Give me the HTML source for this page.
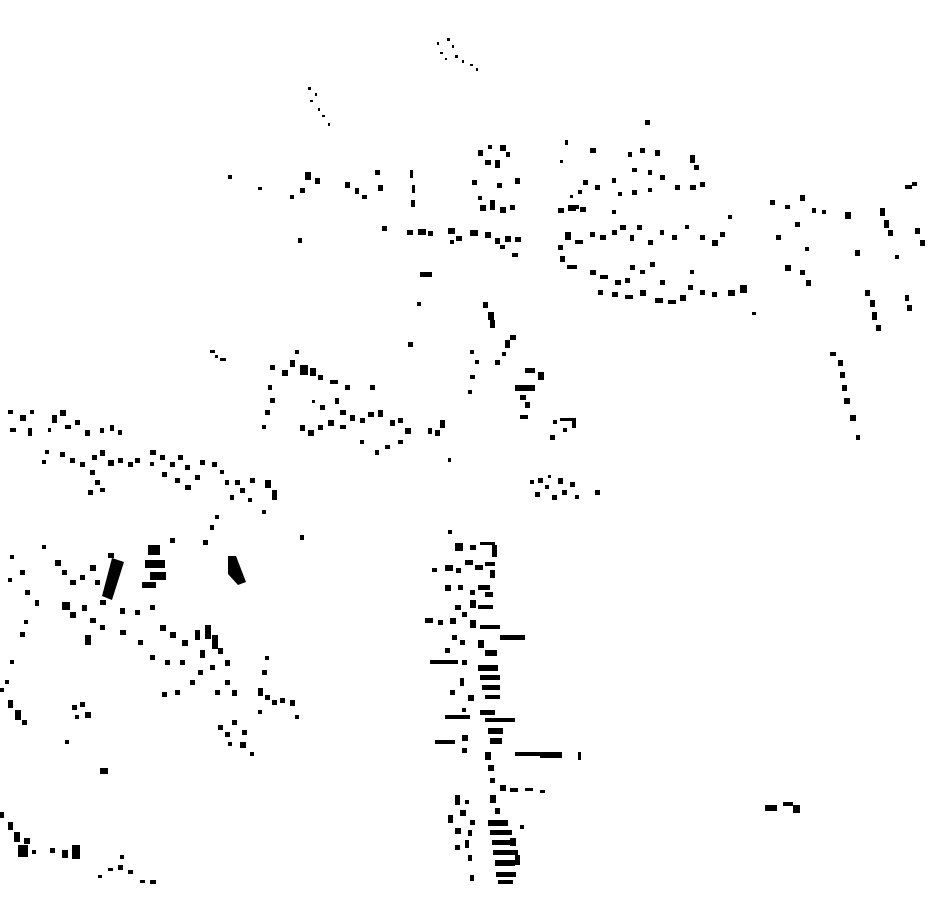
<!DOCTYPE html>
<html><head><meta charset="utf-8"><style>html,body{margin:0;padding:0;background:#fff}svg{display:block}</style></head>
<body>
<svg width="930" height="924" viewBox="0 0 930 924" xmlns="http://www.w3.org/2000/svg">
<rect width="930" height="924" fill="#fff"/>
<g fill="#000">
<!-- top -->
<rect x="437" y="42" width="2" height="3"/><rect x="447" y="38" width="3" height="3"/><rect x="452" y="45" width="2" height="3"/><rect x="440" y="52" width="3" height="2"/><rect x="455" y="55" width="3" height="3"/><rect x="462" y="60" width="2" height="3"/><rect x="470" y="64" width="3" height="2"/><rect x="476" y="68" width="2" height="3"/><rect x="445" y="58" width="2" height="2"/>
<rect x="308" y="87" width="3" height="3"/><rect x="315" y="93" width="2" height="3"/><rect x="310" y="100" width="3" height="2"/><rect x="318" y="108" width="2" height="3"/><rect x="322" y="115" width="3" height="2"/><rect x="328" y="123" width="2" height="3"/>
<rect x="645" y="120" width="5" height="5"/>
<rect x="478" y="150" width="5" height="6"/><rect x="488" y="145" width="4" height="4"/><rect x="500" y="145" width="6" height="6"/><rect x="506" y="152" width="4" height="5"/><rect x="485" y="160" width="6" height="5"/><rect x="495" y="160" width="5" height="8"/><rect x="472" y="180" width="5" height="5"/><rect x="497" y="183" width="5" height="5"/><rect x="515" y="178" width="5" height="6"/><rect x="480" y="205" width="6" height="6"/><rect x="490" y="200" width="5" height="10"/><rect x="500" y="207" width="6" height="6"/><rect x="510" y="205" width="5" height="5"/><rect x="478" y="196" width="4" height="4"/>
<rect x="565" y="140" width="3" height="5"/><rect x="590" y="148" width="6" height="5"/><rect x="560" y="160" width="3" height="3"/><rect x="583" y="180" width="5" height="5"/><rect x="578" y="190" width="4" height="4"/><rect x="595" y="185" width="5" height="5"/><rect x="558" y="208" width="6" height="5"/><rect x="568" y="205" width="8" height="6"/><rect x="580" y="207" width="6" height="5"/><rect x="570" y="195" width="3" height="3"/>
<rect x="628" y="152" width="4" height="5"/><rect x="640" y="148" width="5" height="5"/><rect x="655" y="150" width="5" height="6"/><rect x="632" y="168" width="5" height="4"/><rect x="648" y="170" width="4" height="5"/><rect x="660" y="175" width="5" height="5"/><rect x="690" y="155" width="5" height="8"/><rect x="694" y="165" width="5" height="5"/><rect x="675" y="185" width="5" height="5"/><rect x="690" y="185" width="6" height="5"/><rect x="700" y="182" width="5" height="5"/><rect x="632" y="190" width="5" height="5"/><rect x="612" y="178" width="4" height="5"/><rect x="618" y="192" width="4" height="4"/><rect x="648" y="188" width="4" height="4"/>
<rect x="228" y="175" width="4" height="4"/><rect x="258" y="187" width="4" height="3"/><rect x="305" y="172" width="6" height="8"/><rect x="315" y="178" width="5" height="6"/><rect x="300" y="188" width="5" height="5"/><rect x="290" y="195" width="4" height="4"/><rect x="345" y="182" width="5" height="6"/><rect x="355" y="188" width="4" height="6"/><rect x="362" y="195" width="5" height="4"/><rect x="375" y="170" width="5" height="5"/><rect x="378" y="185" width="5" height="6"/><rect x="410" y="170" width="3" height="8"/><rect x="412" y="185" width="3" height="8"/><rect x="411" y="200" width="4" height="7"/><rect x="298" y="238" width="4" height="5"/>
<rect x="382" y="226" width="5" height="5"/><rect x="407" y="230" width="6" height="5"/><rect x="418" y="229" width="8" height="6"/><rect x="428" y="231" width="5" height="5"/><rect x="448" y="228" width="7" height="6"/><rect x="456" y="236" width="6" height="5"/><rect x="470" y="230" width="8" height="6"/><rect x="485" y="232" width="6" height="6"/><rect x="495" y="238" width="5" height="6"/><rect x="505" y="236" width="6" height="6"/><rect x="515" y="237" width="6" height="5"/><rect x="500" y="245" width="5" height="4"/><rect x="512" y="253" width="6" height="4"/><rect x="450" y="240" width="4" height="4"/>
<rect x="565" y="232" width="6" height="8"/><rect x="558" y="245" width="5" height="5"/><rect x="560" y="256" width="5" height="6"/><rect x="567" y="265" width="10" height="4"/><rect x="575" y="240" width="8" height="4"/><rect x="590" y="232" width="5" height="5"/><rect x="600" y="235" width="6" height="5"/><rect x="612" y="230" width="5" height="5"/><rect x="620" y="225" width="6" height="5"/><rect x="630" y="235" width="4" height="6"/><rect x="637" y="225" width="5" height="5"/><rect x="648" y="240" width="5" height="5"/><rect x="660" y="230" width="4" height="5"/><rect x="672" y="235" width="5" height="5"/><rect x="685" y="225" width="4" height="4"/><rect x="700" y="235" width="5" height="5"/><rect x="712" y="240" width="6" height="6"/><rect x="720" y="232" width="5" height="5"/><rect x="728" y="215" width="4" height="4"/><rect x="590" y="270" width="6" height="5"/><rect x="600" y="275" width="8" height="4"/><rect x="615" y="280" width="6" height="5"/><rect x="625" y="278" width="5" height="5"/><rect x="630" y="265" width="5" height="5"/><rect x="640" y="270" width="5" height="4"/><rect x="650" y="262" width="5" height="5"/><rect x="598" y="290" width="5" height="5"/><rect x="612" y="292" width="6" height="5"/><rect x="625" y="295" width="8" height="4"/><rect x="640" y="290" width="6" height="6"/><rect x="655" y="298" width="8" height="5"/><rect x="668" y="300" width="8" height="4"/><rect x="680" y="295" width="6" height="6"/><rect x="688" y="285" width="5" height="5"/><rect x="700" y="290" width="5" height="5"/><rect x="712" y="292" width="5" height="5"/><rect x="728" y="290" width="7" height="6"/><rect x="740" y="285" width="7" height="8"/><rect x="752" y="312" width="4" height="3"/><rect x="575" y="205" width="4" height="4"/><rect x="612" y="210" width="4" height="4"/><rect x="690" y="270" width="4" height="4"/><rect x="660" y="280" width="5" height="5"/>
<rect x="770" y="200" width="5" height="5"/><rect x="785" y="205" width="5" height="4"/><rect x="800" y="195" width="5" height="6"/><rect x="812" y="208" width="4" height="5"/><rect x="822" y="210" width="4" height="4"/><rect x="776" y="235" width="5" height="5"/><rect x="795" y="222" width="5" height="5"/><rect x="785" y="265" width="6" height="6"/><rect x="800" y="270" width="5" height="5"/><rect x="806" y="280" width="5" height="6"/><rect x="805" y="247" width="4" height="4"/><rect x="845" y="212" width="6" height="7"/><rect x="855" y="250" width="5" height="6"/><rect x="880" y="208" width="5" height="8"/><rect x="884" y="220" width="5" height="8"/><rect x="888" y="230" width="5" height="6"/><rect x="915" y="228" width="5" height="6"/><rect x="920" y="240" width="5" height="6"/><rect x="895" y="255" width="4" height="4"/><rect x="905" y="185" width="7" height="4"/><rect x="912" y="182" width="5" height="4"/><rect x="865" y="290" width="5" height="6"/><rect x="870" y="300" width="5" height="7"/><rect x="872" y="312" width="5" height="8"/><rect x="876" y="325" width="5" height="6"/><rect x="905" y="295" width="4" height="6"/><rect x="907" y="305" width="5" height="6"/>
<rect x="420" y="272" width="12" height="5"/><rect x="417" y="302" width="4" height="4"/><rect x="408" y="342" width="5" height="5"/>
<rect x="483" y="302" width="5" height="6"/><rect x="488" y="312" width="6" height="8"/><rect x="490" y="320" width="5" height="8"/><rect x="470" y="350" width="4" height="4"/><rect x="475" y="360" width="4" height="4"/><rect x="470" y="375" width="5" height="4"/><rect x="468" y="390" width="4" height="4"/><rect x="505" y="340" width="5" height="8"/><rect x="510" y="335" width="6" height="5"/><rect x="495" y="360" width="5" height="5"/><rect x="502" y="352" width="4" height="4"/><rect x="525" y="368" width="10" height="5"/><rect x="538" y="372" width="6" height="8"/><rect x="515" y="385" width="20" height="6"/><rect x="520" y="395" width="6" height="5"/><rect x="525" y="402" width="5" height="6"/><rect x="520" y="415" width="8" height="4"/><rect x="550" y="435" width="5" height="5"/><rect x="553" y="420" width="4" height="4"/><rect x="560" y="418" width="12" height="3"/><rect x="572" y="418" width="4" height="10"/><rect x="563" y="428" width="4" height="4"/>
<rect x="830" y="352" width="6" height="4"/><rect x="838" y="360" width="5" height="6"/><rect x="840" y="372" width="5" height="6"/><rect x="842" y="385" width="5" height="6"/><rect x="844" y="398" width="6" height="6"/><rect x="850" y="415" width="6" height="6"/><rect x="856" y="435" width="4" height="5"/>
<rect x="210" y="350" width="5" height="3"/><rect x="220" y="358" width="6" height="3"/><rect x="215" y="355" width="3" height="3"/>
<rect x="270" y="365" width="5" height="5"/><rect x="282" y="370" width="6" height="6"/><rect x="290" y="360" width="5" height="7"/><rect x="295" y="350" width="4" height="4"/><rect x="300" y="365" width="8" height="10"/><rect x="310" y="368" width="6" height="8"/><rect x="318" y="375" width="5" height="5"/><rect x="330" y="380" width="8" height="4"/><rect x="345" y="385" width="5" height="5"/><rect x="370" y="385" width="5" height="5"/><rect x="268" y="385" width="4" height="5"/><rect x="270" y="398" width="5" height="5"/><rect x="265" y="410" width="5" height="5"/><rect x="262" y="425" width="4" height="4"/><rect x="335" y="398" width="4" height="6"/><rect x="340" y="410" width="6" height="5"/>
<rect x="300" y="425" width="5" height="6"/><rect x="308" y="430" width="6" height="6"/><rect x="318" y="425" width="5" height="5"/><rect x="328" y="420" width="6" height="6"/><rect x="340" y="425" width="6" height="4"/><rect x="350" y="415" width="5" height="6"/><rect x="360" y="418" width="5" height="5"/><rect x="368" y="412" width="6" height="5"/><rect x="378" y="410" width="5" height="7"/><rect x="390" y="420" width="5" height="6"/><rect x="398" y="418" width="5" height="5"/><rect x="405" y="428" width="6" height="6"/><rect x="360" y="440" width="4" height="4"/><rect x="375" y="450" width="4" height="5"/><rect x="385" y="445" width="5" height="4"/><rect x="398" y="440" width="5" height="4"/><rect x="428" y="428" width="4" height="6"/><rect x="435" y="430" width="5" height="6"/><rect x="440" y="420" width="5" height="8"/><rect x="448" y="458" width="3" height="4"/><rect x="320" y="405" width="5" height="5"/><rect x="312" y="400" width="3" height="3"/>
<rect x="8" y="410" width="5" height="4"/><rect x="20" y="415" width="6" height="6"/><rect x="30" y="410" width="4" height="4"/><rect x="10" y="428" width="6" height="4"/><rect x="28" y="428" width="4" height="8"/><rect x="52" y="415" width="5" height="8"/><rect x="60" y="410" width="6" height="6"/><rect x="65" y="425" width="6" height="4"/><rect x="75" y="420" width="5" height="5"/><rect x="85" y="430" width="5" height="6"/><rect x="100" y="428" width="4" height="5"/><rect x="110" y="425" width="4" height="6"/><rect x="118" y="430" width="4" height="5"/><rect x="48" y="428" width="3" height="4"/>
<rect x="45" y="450" width="4" height="4"/><rect x="42" y="460" width="4" height="4"/><rect x="60" y="452" width="5" height="5"/><rect x="70" y="458" width="5" height="5"/><rect x="80" y="462" width="5" height="5"/><rect x="92" y="455" width="5" height="5"/><rect x="100" y="450" width="5" height="6"/><rect x="108" y="460" width="6" height="6"/><rect x="118" y="458" width="5" height="5"/><rect x="128" y="462" width="5" height="5"/><rect x="135" y="458" width="5" height="5"/><rect x="90" y="470" width="5" height="5"/><rect x="95" y="480" width="5" height="5"/><rect x="88" y="490" width="5" height="5"/><rect x="100" y="488" width="5" height="4"/><rect x="150" y="450" width="6" height="5"/><rect x="160" y="455" width="5" height="5"/><rect x="170" y="462" width="5" height="5"/><rect x="178" y="455" width="5" height="5"/><rect x="185" y="465" width="5" height="5"/><rect x="150" y="462" width="4" height="4"/><rect x="162" y="472" width="5" height="5"/><rect x="175" y="478" width="5" height="5"/><rect x="185" y="485" width="6" height="5"/><rect x="195" y="475" width="5" height="5"/><rect x="200" y="460" width="5" height="5"/><rect x="212" y="462" width="5" height="5"/><rect x="220" y="470" width="4" height="4"/><rect x="225" y="480" width="4" height="5"/><rect x="235" y="480" width="5" height="5"/><rect x="240" y="488" width="5" height="5"/><rect x="250" y="478" width="5" height="5"/><rect x="265" y="480" width="6" height="8"/><rect x="272" y="490" width="5" height="10"/><rect x="262" y="510" width="4" height="4"/><rect x="248" y="498" width="4" height="4"/><rect x="230" y="495" width="4" height="5"/><rect x="215" y="515" width="4" height="4"/><rect x="210" y="525" width="4" height="5"/><rect x="203" y="540" width="5" height="5"/><rect x="300" y="535" width="4" height="5"/>
<rect x="10" y="555" width="4" height="4"/><rect x="20" y="570" width="5" height="5"/><rect x="8" y="578" width="4" height="4"/><rect x="25" y="590" width="5" height="5"/><rect x="35" y="600" width="4" height="6"/><rect x="42" y="545" width="4" height="4"/><rect x="55" y="560" width="6" height="6"/><rect x="62" y="570" width="5" height="5"/><rect x="70" y="580" width="6" height="5"/><rect x="80" y="575" width="5" height="5"/><rect x="90" y="565" width="6" height="6"/><rect x="95" y="580" width="5" height="5"/><rect x="100" y="600" width="6" height="5"/><rect x="108" y="553" width="6" height="5"/>
<polygon points="112,558 124,562 112,600 102,596"/>
<rect x="148" y="545" width="12" height="10"/><rect x="145" y="560" width="20" height="8"/><rect x="150" y="572" width="16" height="8"/><rect x="142" y="582" width="14" height="6"/><rect x="170" y="538" width="5" height="5"/>
<polygon points="228,556 236,556 246,582 238,585 228,574"/>
<rect x="62" y="602" width="8" height="8"/><rect x="70" y="612" width="6" height="6"/><rect x="82" y="605" width="5" height="6"/><rect x="90" y="618" width="6" height="5"/><rect x="85" y="635" width="6" height="10"/><rect x="20" y="632" width="5" height="5"/><rect x="24" y="620" width="4" height="4"/><rect x="120" y="608" width="5" height="6"/><rect x="135" y="610" width="5" height="5"/><rect x="150" y="605" width="5" height="5"/><rect x="100" y="625" width="5" height="5"/><rect x="120" y="630" width="6" height="5"/><rect x="138" y="640" width="5" height="5"/><rect x="160" y="625" width="6" height="6"/><rect x="170" y="632" width="6" height="6"/><rect x="182" y="640" width="6" height="6"/><rect x="195" y="630" width="5" height="10"/><rect x="205" y="625" width="6" height="14"/><rect x="212" y="635" width="6" height="14"/><rect x="200" y="650" width="5" height="8"/><rect x="218" y="648" width="5" height="6"/><rect x="225" y="660" width="5" height="6"/><rect x="150" y="655" width="5" height="5"/><rect x="165" y="660" width="5" height="5"/><rect x="180" y="660" width="5" height="5"/><rect x="198" y="670" width="5" height="5"/><rect x="210" y="665" width="5" height="5"/><rect x="225" y="680" width="5" height="5"/><rect x="232" y="690" width="5" height="6"/><rect x="215" y="690" width="5" height="5"/><rect x="175" y="690" width="5" height="5"/><rect x="162" y="692" width="5" height="5"/><rect x="190" y="680" width="5" height="5"/>
<rect x="265" y="656" width="4" height="4"/><rect x="262" y="670" width="5" height="5"/><rect x="258" y="688" width="5" height="8"/><rect x="265" y="695" width="5" height="5"/><rect x="272" y="700" width="5" height="5"/><rect x="280" y="698" width="5" height="5"/><rect x="290" y="700" width="5" height="6"/><rect x="295" y="715" width="4" height="4"/><rect x="258" y="710" width="4" height="4"/>
<rect x="0" y="688" width="4" height="4"/><rect x="8" y="700" width="5" height="8"/><rect x="15" y="710" width="6" height="10"/><rect x="22" y="720" width="5" height="5"/><rect x="72" y="705" width="5" height="5"/><rect x="80" y="702" width="5" height="5"/><rect x="85" y="712" width="6" height="6"/><rect x="75" y="715" width="4" height="4"/><rect x="65" y="740" width="4" height="4"/><rect x="100" y="768" width="8" height="6"/><rect x="218" y="725" width="5" height="5"/><rect x="225" y="732" width="5" height="5"/><rect x="232" y="720" width="5" height="5"/><rect x="240" y="742" width="6" height="6"/><rect x="250" y="752" width="4" height="4"/><rect x="228" y="742" width="4" height="4"/><rect x="242" y="730" width="5" height="5"/><rect x="5" y="680" width="4" height="4"/><rect x="10" y="660" width="4" height="4"/>
<rect x="0" y="812" width="4" height="6"/><rect x="8" y="822" width="5" height="8"/><rect x="14" y="832" width="6" height="10"/><rect x="18" y="845" width="10" height="12"/><rect x="24" y="838" width="6" height="6"/><rect x="32" y="850" width="4" height="4"/><rect x="50" y="848" width="5" height="5"/><rect x="62" y="850" width="6" height="8"/><rect x="72" y="845" width="8" height="14"/><rect x="98" y="875" width="4" height="3"/><rect x="108" y="868" width="5" height="3"/><rect x="118" y="865" width="5" height="5"/><rect x="128" y="870" width="5" height="4"/><rect x="140" y="880" width="5" height="3"/><rect x="150" y="880" width="6" height="4"/><rect x="120" y="855" width="4" height="4"/>
<rect x="530" y="480" width="4" height="4"/><rect x="538" y="478" width="5" height="5"/><rect x="545" y="485" width="4" height="4"/><rect x="558" y="478" width="5" height="6"/><rect x="562" y="490" width="5" height="5"/><rect x="570" y="482" width="5" height="5"/><rect x="535" y="492" width="5" height="5"/><rect x="552" y="495" width="5" height="5"/><rect x="575" y="495" width="4" height="4"/><rect x="595" y="490" width="5" height="5"/><rect x="548" y="475" width="3" height="3"/>
<!-- vertical strip -->
<rect x="448" y="530" width="4" height="4"/><rect x="455" y="543" width="8" height="8"/><rect x="470" y="545" width="6" height="5"/><rect x="480" y="542" width="15" height="3"/><rect x="492" y="545" width="5" height="12"/><rect x="432" y="568" width="5" height="4"/><rect x="445" y="565" width="8" height="6"/><rect x="456" y="568" width="5" height="5"/><rect x="465" y="560" width="8" height="5"/><rect x="475" y="565" width="8" height="5"/><rect x="485" y="562" width="10" height="4"/><rect x="490" y="570" width="5" height="8"/><rect x="445" y="585" width="6" height="6"/><rect x="458" y="585" width="5" height="5"/><rect x="470" y="590" width="5" height="5"/><rect x="478" y="585" width="12" height="5"/><rect x="485" y="592" width="8" height="5"/><rect x="455" y="605" width="6" height="5"/><rect x="470" y="600" width="6" height="8"/><rect x="478" y="605" width="15" height="4"/><rect x="425" y="618" width="8" height="5"/><rect x="438" y="620" width="5" height="5"/><rect x="450" y="618" width="6" height="6"/><rect x="462" y="612" width="5" height="5"/><rect x="470" y="620" width="6" height="8"/><rect x="480" y="625" width="20" height="4"/><rect x="500" y="635" width="25" height="5"/><rect x="452" y="635" width="5" height="5"/><rect x="445" y="648" width="5" height="5"/><rect x="460" y="640" width="5" height="5"/><rect x="478" y="640" width="6" height="8"/><rect x="485" y="650" width="12" height="6"/><rect x="430" y="660" width="28" height="4"/><rect x="462" y="660" width="5" height="5"/><rect x="478" y="665" width="20" height="6"/><rect x="480" y="675" width="20" height="5"/><rect x="482" y="685" width="18" height="5"/><rect x="485" y="695" width="15" height="4"/><rect x="460" y="678" width="4" height="8"/><rect x="450" y="690" width="5" height="5"/><rect x="468" y="695" width="6" height="6"/><rect x="445" y="715" width="25" height="4"/><rect x="462" y="708" width="4" height="4"/><rect x="480" y="710" width="15" height="5"/><rect x="485" y="718" width="30" height="4"/><rect x="488" y="728" width="15" height="6"/><rect x="490" y="738" width="12" height="6"/><rect x="435" y="740" width="20" height="4"/><rect x="462" y="735" width="6" height="6"/><rect x="462" y="748" width="5" height="5"/><rect x="485" y="752" width="6" height="8"/><rect x="515" y="752" width="25" height="4"/><rect x="540" y="752" width="22" height="6"/><rect x="578" y="752" width="3" height="8"/><rect x="488" y="765" width="6" height="6"/><rect x="490" y="778" width="5" height="5"/><rect x="500" y="785" width="6" height="6"/><rect x="510" y="788" width="8" height="4"/><rect x="525" y="788" width="8" height="3"/><rect x="540" y="790" width="5" height="3"/><rect x="455" y="795" width="5" height="10"/><rect x="460" y="810" width="6" height="6"/><rect x="448" y="815" width="5" height="8"/><rect x="465" y="800" width="4" height="4"/><rect x="490" y="795" width="6" height="8"/><rect x="495" y="808" width="5" height="6"/><rect x="455" y="828" width="6" height="6"/><rect x="470" y="820" width="5" height="5"/><rect x="488" y="820" width="20" height="6"/><rect x="490" y="830" width="22" height="5"/><rect x="492" y="840" width="22" height="5"/><rect x="493" y="850" width="25" height="5"/><rect x="495" y="860" width="20" height="6"/><rect x="496" y="872" width="20" height="5"/><rect x="498" y="880" width="15" height="4"/><rect x="510" y="838" width="6" height="8"/><rect x="515" y="855" width="5" height="10"/><rect x="468" y="830" width="4" height="6"/><rect x="465" y="840" width="4" height="8"/><rect x="468" y="855" width="4" height="6"/><rect x="470" y="875" width="4" height="6"/><rect x="455" y="845" width="5" height="5"/><rect x="520" y="825" width="4" height="4"/>
<rect x="765" y="805" width="12" height="6"/><rect x="783" y="802" width="10" height="4"/><rect x="793" y="805" width="7" height="8"/>
</g>
</svg>
</body></html>
